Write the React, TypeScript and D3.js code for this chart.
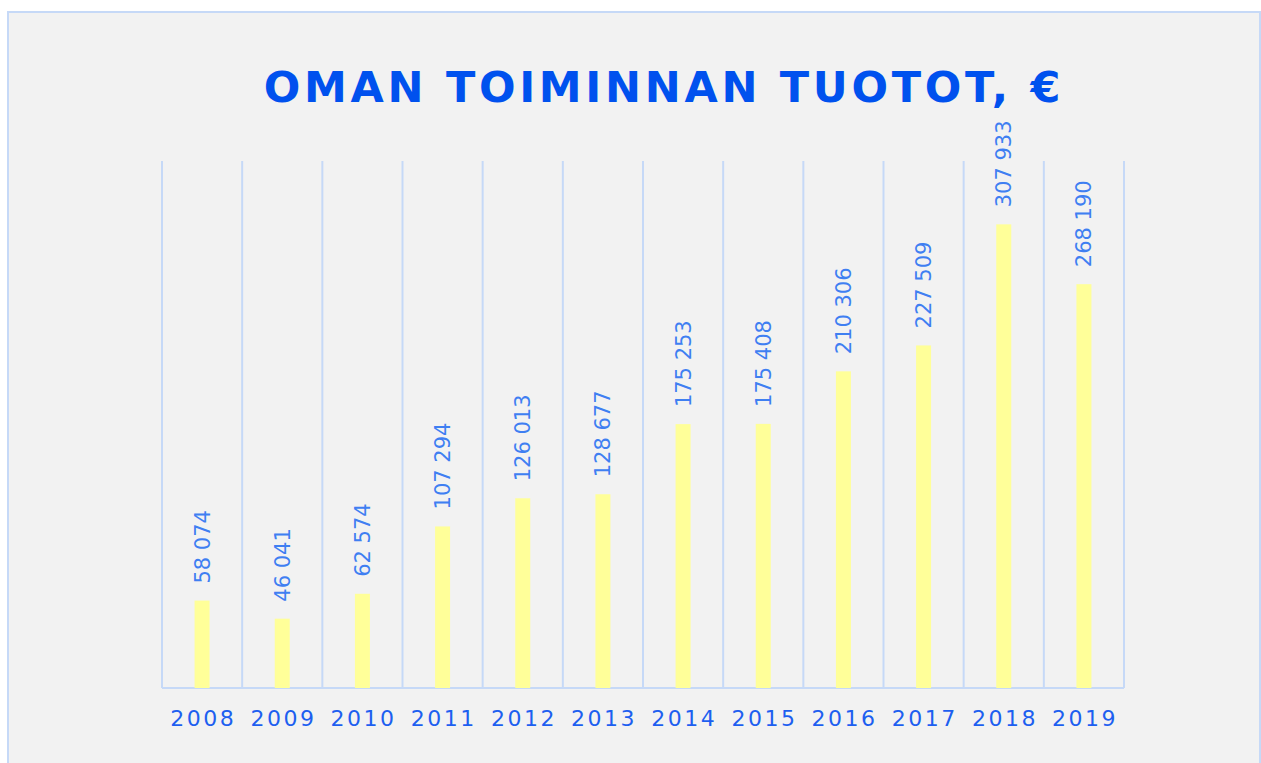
import { useEffect, useRef } from "react"
import * as d3 from "d3"

const years = ["2008", "2009", "2010", "2011", "2012", "2013", "2014", "2015", "2016", "2017", "2018", "2019"]
const values = [58074, 46041, 62574, 107294, 126013, 128677, 175253, 175408, 210306, 227509, 307933, 268190]
const title = "OMAN TOIMINNAN TUOTOT, €"

const W = 1261
const H = 763

export default function App() {
  const svgRef = useRef<SVGSVGElement>(null)

  useEffect(() => {
    if (!svgRef.current) return
    const svg = d3.select(svgRef.current)
    svg.selectAll("*").remove()

    const font = "'DejaVu Sans', Verdana, sans-serif"
    const left = 162
    const right = 1124
    const top = 161
    const bottom = 688

    // frame and background
    svg.append("rect").attr("width", W).attr("height", H).attr("fill", "#ffffff")
    svg
      .append("rect")
      .attr("x", 8)
      .attr("y", 12)
      .attr("width", 1252)
      .attr("height", 770)
      .attr("fill", "#f2f2f2")
      .attr("stroke", "#c6d9f7")
      .attr("stroke-width", 2)

    svg
      .append("text")
      .attr("x", 664)
      .attr("y", 102)
      .attr("text-anchor", "middle")
      .attr("font-family", font)
      .attr("font-weight", "bold")
      .attr("font-size", 43)
      .attr("letter-spacing", 3.7)
      .attr("fill", "#0051ee")
      .text(title)

    const x = d3.scaleBand<string>().domain(years).range([left, right])
    const y = d3.scaleLinear().domain([0, 350000]).range([bottom, top])

    const grid = svg.append("g").attr("stroke", "#c6d9f7").attr("stroke-width", 2)
    const edges = years.map((d) => x(d)!).concat([right])
    grid
      .selectAll("line.v")
      .data(edges)
      .enter()
      .append("line")
      .attr("x1", (d) => d)
      .attr("x2", (d) => d)
      .attr("y1", top)
      .attr("y2", bottom)
    grid.append("line").attr("x1", left).attr("x2", right).attr("y1", bottom).attr("y2", bottom)

    const barW = 15
    svg
      .append("g")
      .selectAll("rect")
      .data(values)
      .enter()
      .append("rect")
      .attr("x", (d, i) => x(years[i])! + x.bandwidth() / 2 - barW / 2)
      .attr("y", (d) => y(d))
      .attr("width", barW)
      .attr("height", (d) => bottom - y(d))
      .attr("fill", "#ffff99")

    const fmt = (v: number) => d3.format(",")(v).replace(/,/g, " ")

    // value labels, rotated
    svg
      .append("g")
      .selectAll("text")
      .data(values)
      .enter()
      .append("text")
      .attr("transform", (d, i) => `translate(${x(years[i])! + x.bandwidth() / 2},${y(d) - 17}) rotate(-90)`)
      .attr("dy", "0.36em")
      .attr("font-family", font)
      .attr("font-size", 21)
      .attr("fill", "#3f7ff2")
      .text((d) => fmt(d))

    // year labels
    svg
      .append("g")
      .selectAll("text")
      .data(years)
      .enter()
      .append("text")
      .attr("x", (d) => x(d)! + x.bandwidth() / 2 + 1.2)
      .attr("y", 726)
      .attr("text-anchor", "middle")
      .attr("font-family", font)
      .attr("font-size", 22)
      .attr("letter-spacing", 2.5)
      .attr("fill", "#1d5ff0")
      .text((d) => d)
  }, [])

  return (
    <svg
      ref={svgRef}
      width={W}
      height={H}
      style={{ position: "absolute", left: 0, top: 0, display: "block" }}
    />
  )
}
